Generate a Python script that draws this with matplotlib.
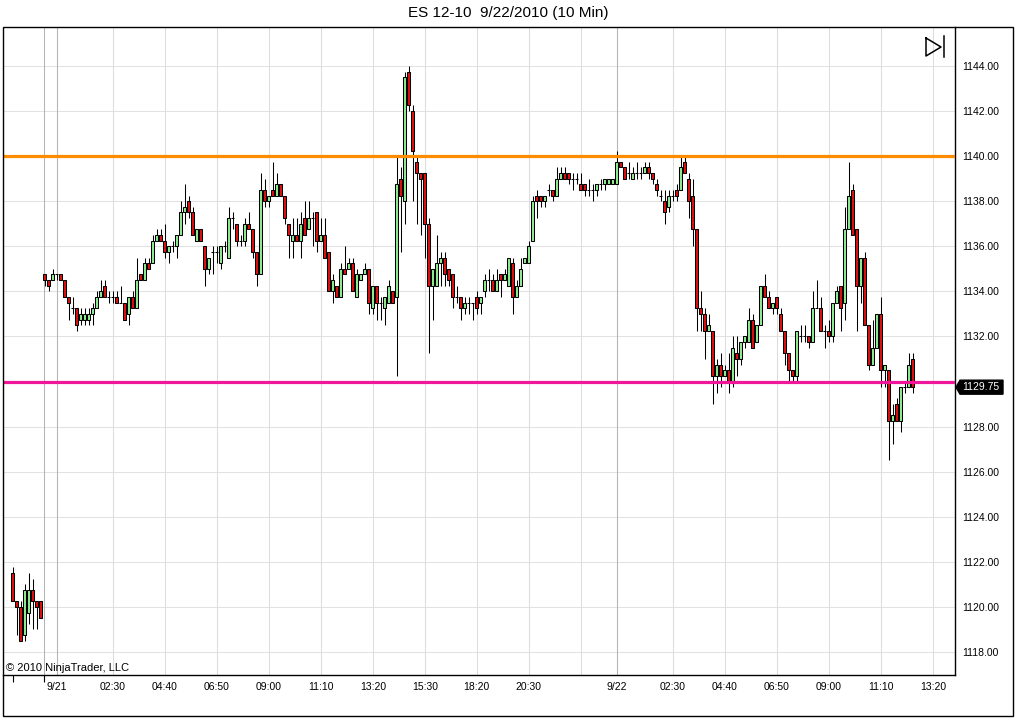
import matplotlib
matplotlib.use("Agg")
import matplotlib.pyplot as plt
from matplotlib.lines import Line2D
from matplotlib.patches import Polygon, Rectangle

plt.rcParams['font.family'] = ['Liberation Sans', 'DejaVu Sans']

title = "ES 12-10  9/22/2010 (10 Min)"
copyright_text = "\u00a9 2010 NinjaTrader, LLC"

opens = [1121.5, 1120.25, 1120.0, 1118.75, 1119.75, 1120.75, 1120.25, 1120.25,
         1134.75, 1134.5, 1134.5, 1134.75, 1134.75, 1134.5, 1133.75, 1133.25, 1133.25, 1132.75, 1132.75, 1132.75,
         1133.0, 1133.25, 1133.75, 1134.25, 1133.75, 1133.75, 1133.75, 1133.5, 1133.5, 1133.0, 1133.75, 1133.25,
         1134.75, 1134.5, 1135.25, 1135.25, 1136.25, 1136.5, 1136.25, 1135.75, 1136.0, 1136.0, 1136.5, 1137.5,
         1138.0, 1137.5, 1136.25, 1136.75, 1136.0, 1135.0, 1135.75, 1135.75, 1135.25, 1136.0, 1135.5, 1137.25,
         1137.0, 1136.25, 1136.25, 1137.0, 1136.75, 1135.75, 1134.75, 1138.5, 1138.0, 1138.5, 1138.25, 1138.75,
         1138.25, 1137.0, 1136.25, 1136.5, 1136.25, 1137.25, 1136.75, 1137.25, 1137.5, 1136.25, 1136.5, 1135.75,
         1134.0, 1134.25, 1133.75, 1135.0, 1135.0, 1135.25, 1133.75, 1134.5, 1134.75, 1135.0, 1133.25, 1134.25,
         1133.5, 1133.25, 1133.5, 1134.0, 1133.75, 1139.0, 1138.0, 1143.75, 1142.0, 1139.75, 1139.25, 1139.25,
         1137.0, 1134.25, 1134.25, 1135.25, 1135.5, 1135.0, 1134.75, 1133.75, 1133.75, 1133.25, 1133.5, 1133.5,
         1133.75, 1133.5, 1134.0, 1134.5, 1134.5, 1134.0, 1134.75, 1134.5, 1134.25, 1135.25, 1133.75, 1134.25,
         1135.25, 1135.25, 1136.25, 1138.25, 1138.25, 1138.0, 1138.5, 1138.5, 1138.25, 1139.0, 1139.25, 1139.25,
         1139.0, 1139.0, 1138.75, 1138.75, 1138.5, 1138.5, 1138.5, 1138.75, 1138.75, 1138.75, 1138.75, 1138.75,
         1139.75, 1139.5, 1139.25, 1139.0, 1139.25, 1139.25, 1139.25, 1139.5, 1139.25, 1138.75, 1138.25, 1138.0,
         1137.75, 1138.25, 1138.5, 1138.5, 1139.75, 1139.0, 1138.25, 1136.75, 1133.25, 1133.0, 1132.25, 1132.25,
         1130.25, 1130.75, 1130.25, 1130.5, 1130.0, 1131.25, 1131.0, 1131.75, 1131.75, 1132.75, 1131.75, 1132.5,
         1134.25, 1133.75, 1133.25, 1133.75, 1133.0, 1132.25, 1131.25, 1130.5, 1130.25, 1132.0, 1132.0, 1132.0,
         1131.75, 1133.25, 1133.25, 1132.25, 1132.25, 1132.0, 1133.5, 1134.25, 1133.5, 1136.75, 1138.5, 1136.75,
         1134.25, 1135.5, 1132.5, 1130.75, 1131.5, 1133.0, 1130.5, 1130.5, 1128.25, 1129.0, 1128.25, 1129.75,
         1129.75, 1131.0]
highs = [1121.75, 1120.25, 1120.25, 1121.0, 1121.5, 1121.25, 1120.25, 1120.25,
         1134.75, 1134.5, 1135.0, 1134.75, 1134.75, 1134.5, 1133.75, 1133.75, 1133.25, 1133.25, 1133.25, 1133.25,
         1133.5, 1134.0, 1134.5, 1134.5, 1134.0, 1134.0, 1134.0, 1134.25, 1133.5, 1133.75, 1134.0, 1135.5,
         1134.75, 1135.5, 1135.5, 1136.5, 1136.75, 1136.75, 1137.0, 1136.0, 1136.25, 1136.5, 1138.0, 1138.75,
         1138.25, 1137.75, 1136.75, 1136.75, 1136.0, 1135.5, 1136.0, 1136.0, 1136.0, 1136.25, 1137.75, 1137.5,
         1137.0, 1136.5, 1137.25, 1137.5, 1136.75, 1135.75, 1139.25, 1139.0, 1138.25, 1139.75, 1139.25, 1138.75,
         1138.25, 1137.0, 1137.25, 1137.25, 1137.5, 1138.0, 1138.0, 1137.5, 1137.5, 1137.25, 1137.25, 1135.75,
         1134.75, 1134.25, 1135.25, 1136.0, 1135.5, 1135.5, 1135.0, 1134.75, 1135.25, 1135.0, 1134.25, 1134.25,
         1133.75, 1133.75, 1134.5, 1134.0, 1140.0, 1139.5, 1143.75, 1144.0, 1142.25, 1140.0, 1139.25, 1139.25,
         1137.25, 1135.0, 1136.5, 1135.75, 1135.75, 1135.0, 1134.75, 1134.25, 1133.75, 1133.75, 1133.75, 1133.5,
         1134.0, 1133.75, 1134.75, 1135.0, 1134.75, 1135.0, 1134.75, 1135.0, 1135.5, 1135.5, 1134.5, 1135.5,
         1135.5, 1136.25, 1138.25, 1138.5, 1138.25, 1138.25, 1138.75, 1138.5, 1139.5, 1139.5, 1139.5, 1139.25,
         1139.25, 1139.25, 1139.25, 1138.75, 1139.0, 1138.75, 1138.75, 1139.0, 1139.0, 1139.0, 1139.0, 1140.25,
         1139.75, 1139.5, 1139.75, 1139.5, 1139.75, 1139.5, 1139.75, 1139.75, 1139.25, 1139.0, 1138.5, 1138.5,
         1138.5, 1138.5, 1138.75, 1140.0, 1140.0, 1139.25, 1139.0, 1136.75, 1134.0, 1133.25, 1133.0, 1132.25,
         1131.0, 1131.25, 1130.75, 1131.25, 1132.0, 1132.0, 1131.75, 1132.0, 1133.25, 1133.0, 1132.5, 1134.25,
         1134.75, 1134.0, 1133.5, 1133.75, 1133.25, 1132.25, 1131.25, 1130.5, 1132.25, 1132.5, 1132.5, 1132.0,
         1134.0, 1134.5, 1133.75, 1132.5, 1132.75, 1133.5, 1134.25, 1134.25, 1137.75, 1139.75, 1138.75, 1136.75,
         1135.5, 1135.75, 1132.5, 1132.75, 1133.0, 1133.75, 1130.75, 1130.5, 1129.0, 1129.25, 1129.75, 1130.0,
         1131.25, 1131.25]
lows = [1120.25, 1118.75, 1118.5, 1118.5, 1119.25, 1119.0, 1119.0, 1119.5,
        1134.25, 1134.0, 1134.5, 1134.5, 1134.5, 1133.75, 1132.75, 1133.0, 1132.25, 1132.5, 1132.5, 1132.5,
        1132.5, 1133.25, 1133.75, 1133.75, 1133.5, 1133.5, 1133.5, 1133.5, 1132.75, 1132.5, 1133.25, 1133.25,
        1134.5, 1134.5, 1135.0, 1135.25, 1136.25, 1136.25, 1135.5, 1135.25, 1135.75, 1135.5, 1136.5, 1137.0,
        1137.25, 1136.5, 1136.25, 1136.25, 1134.25, 1134.75, 1134.75, 1135.25, 1135.0, 1135.75, 1135.5, 1136.75,
        1136.0, 1136.0, 1136.0, 1136.75, 1135.5, 1134.25, 1134.75, 1137.75, 1137.75, 1138.25, 1138.25, 1138.25,
        1137.0, 1135.5, 1135.5, 1136.25, 1135.5, 1136.5, 1136.75, 1136.0, 1135.75, 1136.25, 1135.5, 1134.0,
        1133.5, 1133.75, 1133.75, 1134.75, 1135.0, 1134.0, 1133.75, 1134.5, 1134.75, 1133.0, 1133.0, 1132.75,
        1132.75, 1132.5, 1133.5, 1133.5, 1130.25, 1135.75, 1137.0, 1142.0, 1138.0, 1137.0, 1136.5, 1135.5,
        1131.25, 1132.75, 1134.25, 1134.25, 1134.25, 1134.25, 1133.25, 1133.5, 1132.75, 1133.0, 1133.0, 1132.75,
        1133.0, 1133.0, 1133.75, 1134.0, 1134.0, 1134.0, 1133.75, 1134.5, 1134.25, 1133.0, 1133.75, 1134.25,
        1135.25, 1135.25, 1136.25, 1137.25, 1137.75, 1137.75, 1138.25, 1138.0, 1138.25, 1139.0, 1139.0, 1138.75,
        1138.5, 1138.75, 1138.5, 1138.25, 1138.25, 1138.0, 1138.25, 1138.5, 1138.5, 1138.75, 1138.75, 1138.75,
        1139.5, 1139.0, 1139.0, 1139.0, 1139.0, 1139.0, 1139.25, 1139.0, 1138.75, 1138.25, 1138.0, 1137.0,
        1137.5, 1138.0, 1138.0, 1138.5, 1139.25, 1137.25, 1136.0, 1132.25, 1132.25, 1131.0, 1132.25, 1129.0,
        1129.5, 1129.75, 1130.25, 1129.5, 1129.75, 1130.25, 1130.75, 1131.5, 1131.75, 1131.5, 1131.75, 1132.5,
        1133.75, 1133.25, 1133.0, 1133.0, 1132.25, 1130.75, 1130.0, 1130.0, 1130.0, 1131.75, 1131.75, 1131.5,
        1131.75, 1133.25, 1132.25, 1131.5, 1131.75, 1131.75, 1133.5, 1132.25, 1132.75, 1136.75, 1136.5, 1132.25,
        1133.5, 1132.5, 1130.5, 1130.75, 1131.5, 1129.75, 1129.75, 1126.5, 1127.25, 1128.25, 1127.75, 1129.5,
        1129.75, 1129.5]
closes = [1120.25, 1120.0, 1118.5, 1120.75, 1120.75, 1120.25, 1120.0, 1119.5,
          1134.5, 1134.25, 1134.75, 1134.75, 1134.5, 1133.75, 1133.5, 1133.25, 1132.5, 1133.0, 1133.0, 1133.0,
          1133.25, 1133.75, 1134.0, 1133.75, 1133.75, 1133.75, 1133.5, 1133.5, 1132.75, 1133.75, 1133.25, 1134.5,
          1134.5, 1135.25, 1135.0, 1136.25, 1136.5, 1136.25, 1135.75, 1136.0, 1136.0, 1136.5, 1137.5, 1137.75,
          1137.5, 1136.5, 1136.75, 1136.25, 1135.0, 1135.5, 1135.75, 1135.75, 1136.0, 1136.0, 1137.25, 1137.25,
          1136.25, 1136.25, 1137.0, 1136.75, 1135.75, 1134.75, 1138.5, 1138.0, 1138.25, 1138.25, 1138.75, 1138.25,
          1137.25, 1136.5, 1136.5, 1136.25, 1137.0, 1136.5, 1137.25, 1137.25, 1136.25, 1136.5, 1135.5, 1134.0,
          1134.5, 1133.75, 1135.0, 1134.75, 1135.25, 1134.0, 1134.75, 1134.75, 1135.0, 1133.5, 1134.25, 1133.5,
          1133.5, 1133.75, 1134.25, 1133.5, 1138.75, 1138.25, 1143.5, 1142.25, 1140.25, 1139.25, 1139.0, 1137.0,
          1134.25, 1135.0, 1135.25, 1135.5, 1134.75, 1134.5, 1133.75, 1133.75, 1133.25, 1133.5, 1133.5, 1133.5,
          1133.25, 1133.75, 1134.5, 1134.5, 1134.0, 1134.5, 1134.5, 1134.75, 1135.5, 1133.75, 1134.25, 1135.0,
          1135.5, 1136.0, 1138.0, 1138.0, 1138.0, 1138.25, 1138.5, 1138.25, 1139.0, 1139.25, 1139.0, 1139.0,
          1139.0, 1139.0, 1138.5, 1138.5, 1138.5, 1138.5, 1138.75, 1138.75, 1139.0, 1139.0, 1139.0, 1139.75,
          1139.5, 1139.0, 1139.25, 1139.25, 1139.25, 1139.25, 1139.5, 1139.25, 1139.0, 1138.5, 1138.25, 1137.5,
          1138.25, 1138.25, 1138.25, 1139.5, 1139.25, 1138.0, 1136.75, 1133.25, 1133.0, 1132.25, 1132.5, 1130.25,
          1130.75, 1130.25, 1130.5, 1130.0, 1131.5, 1131.0, 1131.75, 1132.0, 1132.75, 1131.5, 1132.5, 1134.25,
          1133.75, 1133.25, 1133.5, 1133.25, 1132.25, 1131.25, 1130.5, 1130.25, 1132.25, 1132.0, 1132.0, 1131.75,
          1133.25, 1133.25, 1132.25, 1132.25, 1132.0, 1133.5, 1134.0, 1133.25, 1136.75, 1138.25, 1136.5, 1134.25,
          1135.5, 1132.5, 1130.75, 1131.5, 1133.0, 1130.5, 1130.75, 1128.25, 1128.5, 1128.25, 1129.75, 1129.75,
          1130.75, 1129.75]

tick_positions = [11, 25, 38, 51, 64, 77, 90, 103, 116, 129, 142, 151, 165, 178, 191, 204, 217, 230]
tick_labels = ["9/21", "02:30", "04:40", "06:50", "09:00", "11:10", "13:20", "15:30", "18:20",
               "20:30", "", "9/22", "02:30", "04:40", "06:50", "09:00", "11:10", "13:20"]
day_break_positions = [7.9, 11, 151]
session_tick_positions = [0, 7.9, 11, 142]
price_levels = [1118, 1120, 1122, 1124, 1126, 1128, 1130, 1132, 1134, 1136, 1138, 1140, 1142, 1144]
resistance_level = 1140.0
support_level = 1130.0

W, H = 1016, 719
fig = plt.figure(figsize=(W / 100, H / 100), dpi=100)


def fx(px):
    return px / W


def fy(py):
    return 1 - py / H


ax = fig.add_axes([fx(3), fy(675), fx(955) - fx(3), fy(27) - fy(675)])
ax.set_xlim(-2.45, 235.55)
ax.set_ylim(1116.98, 1145.73)

# grid
for lv in price_levels:
    ax.axhline(lv, color="#E2E2E2", lw=0.75, zorder=0.5)
for tp in tick_positions:
    ax.axvline(tp, color="#DCDCDC", lw=0.75, zorder=0.5)
for tp in day_break_positions:
    ax.axvline(tp, color="#B4B4B4", lw=0.75, zorder=0.6)

# candles
xs = list(range(len(opens)))
colors = ["#90EE90" if c > o else "#DD1111" for o, c in zip(opens, closes)]
ax.vlines(xs, lows, highs, color="black", lw=0.75, zorder=2)
heights = [c - o for o, c in zip(opens, closes)]
ax.bar(xs, heights, bottom=opens, width=0.8, color=colors, edgecolor="black",
       linewidth=0.75, zorder=3)

# horizontal lines
ax.axhline(resistance_level, color="#FF8C00", lw=2.3, zorder=4)
ax.axhline(support_level, color="#F0169A", lw=2.3, zorder=4)

# last price (hides the axis label under its marker)
last_price = closes[-1]

# axes styling
for side in ["left", "top"]:
    ax.spines[side].set_visible(False)
ax.spines["right"].set_linewidth(1.0)
ax.spines["bottom"].set_linewidth(1.0)
ax.yaxis.tick_right()
ax.set_yticks(price_levels)
ax.set_yticklabels(["" if abs(v - last_price) < 0.6 else f"{v:.2f}" for v in price_levels])
ax.tick_params(axis="y", which="major", length=0, pad=5, labelsize=7.5, colors="black")
ax.set_xticks(tick_positions)
ax.set_xticklabels(tick_labels)
ax.tick_params(axis="x", which="major", length=0, pad=5, labelsize=7.5)
ax.set_xticks(session_tick_positions, minor=True)
ax.tick_params(axis="x", which="minor", length=5, width=0.8, direction="out")

# outer frame
fig.patches.append(Rectangle((fx(3), fy(716)), fx(1013) - fx(3), fy(27) - fy(716),
                             transform=fig.transFigure, fill=False, edgecolor="black", lw=1.0))

# title
fig.text(0.5, fy(13), title, ha="center", va="center", fontsize=11)

# copyright
fig.text(fx(6), fy(668), copyright_text, ha="left", va="center", fontsize=8, zorder=5)

# last price marker
yc = ax.transData.transform((0, last_price))[1]
yc_px = H - yc
pts = [(956, yc_px), (960, yc_px - 7), (1003, yc_px - 7), (1003, yc_px + 7), (960, yc_px + 7)]
fig.patches.append(Polygon([(fx(x), fy(y)) for x, y in pts], closed=True,
                           transform=fig.transFigure, facecolor="black", edgecolor="black",
                           zorder=5))
fig.text(fx(981), fy(yc_px), f"{last_price:.2f}", ha="center", va="center",
         fontsize=7.5, color="white", zorder=6)

# play-forward icon
fig.lines.append(Line2D([fx(926), fx(926), fx(941), fx(926)], [fy(38), fy(56), fy(47), fy(38)],
                        transform=fig.transFigure, color="black", lw=1.1))
fig.lines.append(Line2D([fx(944), fx(944)], [fy(36), fy(57)], transform=fig.transFigure,
                        color="black", lw=1.1))

fig.savefig("out.png", dpi=100)
